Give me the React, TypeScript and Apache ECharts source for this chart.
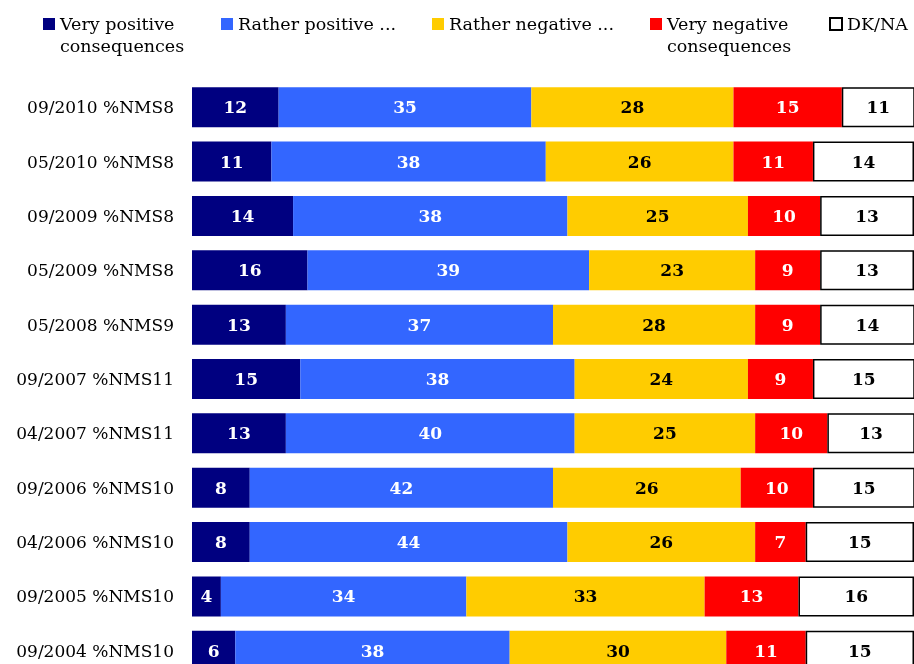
import React, { useEffect, useRef } from "react";
import * as echarts from "echarts";

const categories = [
  "09/2010 %NMS8",
  "05/2010 %NMS8",
  "09/2009 %NMS8",
  "05/2009 %NMS8",
  "05/2008 %NMS9",
  "09/2007 %NMS11",
  "04/2007 %NMS11",
  "09/2006 %NMS10",
  "04/2006 %NMS10",
  "09/2005 %NMS10",
  "09/2004 %NMS10",
];

const veryPositive = [12, 11, 14, 16, 13, 15, 13, 8, 8, 4, 6];
const ratherPositive = [35, 38, 38, 39, 37, 38, 40, 42, 44, 34, 38];
const ratherNegative = [28, 26, 25, 23, 28, 24, 25, 26, 26, 33, 30];
const veryNegative = [15, 11, 10, 9, 9, 9, 10, 10, 7, 13, 11];
const dkna = [11, 14, 13, 13, 14, 15, 13, 15, 15, 16, 15];

const seriesNames = [
  "Very positive consequences",
  "Rather positive ...",
  "Rather negative ...",
  "Very negative consequences",
  "DK/NA",
];

const FONT = "DejaVu Serif";

export default function App() {
  const ref = useRef<HTMLDivElement>(null);

  useEffect(() => {
    if (!ref.current) return;
    const chart = echarts.init(ref.current, null, { renderer: "svg" });

    const mk = (
      name: string,
      data: number[],
      color: string,
      labelColor: string,
      extra: any = {}
    ) => ({
      name,
      type: "bar",
      stack: "total",
      data,
      barWidth: 40,
      itemStyle: { color, ...extra },
      label: {
        show: true,
        position: "inside",
        color: labelColor,
        fontFamily: FONT,
        fontWeight: "bold",
        fontSize: 17,
      },
    });

    const legendBase = {
      padding: 0,
      itemWidth: 12,
      itemHeight: 12,
      icon: "rect",
      selectedMode: false,
      textStyle: { fontFamily: FONT, fontSize: 17.5, color: "#000", lineHeight: 22 },
    };

    chart.setOption({
      animation: false,
      textStyle: { fontFamily: FONT },
      legend: [
        {
          ...legendBase,
          data: [seriesNames[0]],
          left: 43,
          top: -9,
          formatter: () => " \nVery positive\nconsequences",
        },
        { ...legendBase, data: [seriesNames[1]], left: 221, top: 13 },
        { ...legendBase, data: [seriesNames[2]], left: 432, top: 13 },
        {
          ...legendBase,
          data: [seriesNames[3]],
          left: 650,
          top: -9,
          formatter: () => " \nVery negative\nconsequences",
        },
        { ...legendBase, data: [seriesNames[4]], left: 829, top: 13 },
      ],
      grid: { left: 192, right: 0, top: 80, bottom: 2 },
      xAxis: {
        type: "value",
        min: 0,
        max: 100,
        show: false,
      },
      yAxis: {
        type: "category",
        data: categories,
        inverse: true,
        axisLine: { show: false },
        axisTick: { show: false },
        axisLabel: {
          margin: 18,
          fontFamily: FONT,
          fontSize: 17,
          color: "#000",
        },
      },
      series: [
        mk(seriesNames[0], veryPositive, "#000080", "#fff"),
        mk(seriesNames[1], ratherPositive, "#3366FF", "#fff"),
        mk(seriesNames[2], ratherNegative, "#FFCC00", "#000"),
        mk(seriesNames[3], veryNegative, "#FF0000", "#fff"),
        mk(seriesNames[4], dkna, "#FFFFFF", "#000", {
          borderColor: "#000",
          borderWidth: 1.5,
        }),
      ],
    });

    return () => chart.dispose();
  }, []);

  return (
    <div
      ref={ref}
      style={{ position: "fixed", left: 0, top: 0, width: 914, height: 680 }}
    />
  );
}
